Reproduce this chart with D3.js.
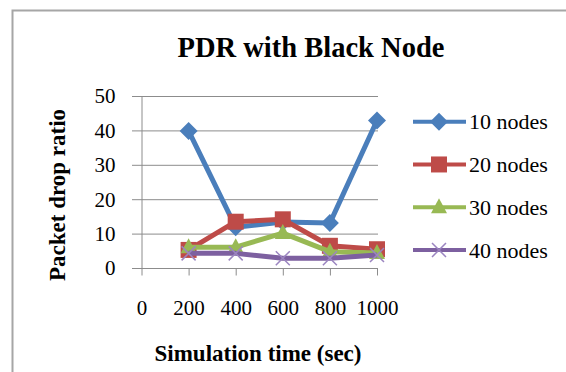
<!DOCTYPE html>
<html>
<head>
<meta charset="utf-8">
<script src="https://cdn.jsdelivr.net/npm/d3@7"></script>
<style>
  body { margin: 0; background: #fff; }
  text { font-family: "Liberation Serif", "Times New Roman", serif; fill: #000; }
</style>
</head>
<body>
<script>
// simulation times and packet drop ratio per network size
var times = [200, 400, 600, 800, 1000];
var xTicks = [0, 200, 400, 600, 800, 1000];
var yTicks = [0, 10, 20, 30, 40, 50];
var nodes10 = [40, 12, 13.5, 13.2, 43];
var nodes20 = [5.4, 13.6, 14.3, 6.6, 5.6];
var nodes30 = [6.2, 6.2, 10.3, 4.9, 4.5];
var nodes40 = [4.4, 4.4, 3, 3, 3.9];
var seriesNames = ["10 nodes", "20 nodes", "30 nodes", "40 nodes"];

var series = [
  {name: seriesNames[0], values: nodes10, color: "#4a7ebb", marker: "diamond"},
  {name: seriesNames[1], values: nodes20, color: "#be4b48", marker: "square"},
  {name: seriesNames[2], values: nodes30, color: "#98b954", marker: "triangle"},
  {name: seriesNames[3], values: nodes40, color: "#7d60a0", marker: "cross"}
];

var width = 566, height = 372;
var svg = d3.select("body").append("svg")
  .attr("width", width)
  .attr("height", height);

// chart area border
svg.append("rect")
  .attr("x", 12.5).attr("y", 10.5)
  .attr("width", 600).attr("height", 400)
  .attr("fill", "#fff")
  .attr("stroke", "#a6a6a6")
  .attr("stroke-width", 2);

var x = d3.scaleLinear().domain([0, 1000]).range([141.5, 377]);
var y = d3.scaleLinear().domain([0, 50]).range([268.5, 96.5]);

// gridlines
svg.append("g").selectAll("line")
  .data(yTicks)
  .enter().append("line")
  .attr("x1", 132).attr("x2", 378)
  .attr("y1", d => y(d)).attr("y2", d => y(d))
  .attr("stroke", "#8c8c8c")
  .attr("stroke-width", 1);

// y axis
var yAxis = d3.axisLeft(y).tickValues(yTicks).tickSize(0).tickPadding(26);
var gy = svg.append("g")
  .attr("transform", `translate(${x(0)},0)`)
  .call(yAxis);
gy.select(".domain").attr("stroke", "#8c8c8c");
gy.selectAll("text")
  .style("font-size", "21px")
  .attr("dy", "0.3em");

// x axis
var xAxis = d3.axisBottom(x).tickValues(xTicks).tickFormat(d3.format("d"))
  .tickSize(7).tickSizeOuter(0);
var gx = svg.append("g")
  .attr("transform", `translate(0,${y(0)})`)
  .call(xAxis);
gx.select(".domain").remove();
gx.selectAll("line").attr("stroke", "#8c8c8c");
gx.selectAll("text")
  .style("font-size", "21px")
  .attr("y", 46)
  .attr("dy", 0);

// titles
svg.append("text")
  .attr("x", 311).attr("y", 57)
  .attr("text-anchor", "middle")
  .style("font-size", "28.5px")
  .style("font-weight", "bold")
  .text("PDR with Black Node");

svg.append("text")
  .attr("x", 258).attr("y", 361)
  .attr("text-anchor", "middle")
  .style("font-size", "23px")
  .style("font-weight", "bold")
  .text("Simulation time (sec)");

svg.append("text")
  .attr("transform", "translate(65,195) rotate(-90)")
  .attr("text-anchor", "middle")
  .style("font-size", "23px")
  .style("font-weight", "bold")
  .text("Packet drop ratio");

function markerPath(type) {
  if (type == "diamond") return "M0,-9L9,0L0,9L-9,0Z";
  if (type == "square") return "M-8,-8H8V8H-8Z";
  if (type == "triangle") return "M0,-9L8,6L-8,6Z";
  return "M-7,-7L7,7M-7,7L7,-7";
}

function drawMarker(sel, s) {
  sel.append("path")
    .attr("d", markerPath(s.marker))
    .attr("fill", s.marker == "cross" ? "none" : s.color)
    .attr("stroke", s.marker == "cross" ? "#9b85c0" : "none")
    .attr("stroke-width", 1.5);
}

var line = d3.line()
  .x((d, i) => x(times[i]))
  .y(d => y(d));

series.forEach(function(s) {
  var g = svg.append("g");
  g.append("path")
    .attr("d", line(s.values))
    .attr("fill", "none")
    .attr("stroke", s.color)
    .attr("stroke-width", 5)
    .attr("stroke-linejoin", "round");
  g.selectAll("g.pt")
    .data(s.values)
    .enter().append("g")
    .attr("class", "pt")
    .attr("transform", (d, i) => `translate(${x(times[i])},${y(d)})`)
    .each(function() { drawMarker(d3.select(this), s); });
});

// legend
var legendY = d3.scalePoint().domain(seriesNames).range([121.7, 250]);
var lg = svg.append("g").selectAll("g")
  .data(series)
  .enter().append("g")
  .attr("transform", d => `translate(0,${legendY(d.name)})`);
lg.append("line")
  .attr("x1", 413).attr("x2", 466)
  .attr("stroke", d => d.color)
  .attr("stroke-width", 4);
lg.append("g")
  .attr("transform", "translate(439,0)")
  .each(function(d) { drawMarker(d3.select(this), d); });
lg.append("text")
  .attr("x", 469).attr("y", 7.5)
  .style("font-size", "22px")
  .text(d => d.name);
</script>
</body>
</html>
